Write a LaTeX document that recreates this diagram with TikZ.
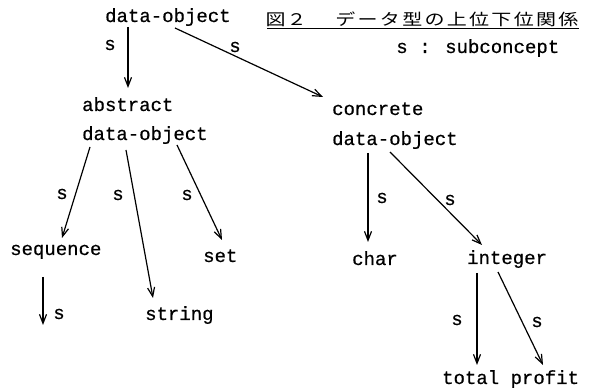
\documentclass[tikz,border=0pt]{standalone}
\usepackage{fontspec}
\usepackage{graphicx}
\setmonofont{Liberation Mono}[FakeBold=0.6]
\newfontfamily\jpfont{Noto Sans CJK JP}
\usetikzlibrary{arrows.meta,calc}
% one wide character cell of the caption
\newcommand\jcell[2][22.3pt]{\makebox[#1]{\scalebox{1.25}[1]{#2}}}
\begin{document}
\begin{tikzpicture}[x=1pt,y=-1pt,
  term/.style={font=\ttfamily\fontsize{19}{19}\selectfont, inner sep=0pt, anchor=base west},
  rel/.style={font=\ttfamily\fontsize{19}{19}\selectfont, inner sep=0pt, anchor=base},
  caption/.style={font=\jpfont\fontsize{16}{16}\selectfont, inner sep=0pt, anchor=base west},
  arr/.style={line width=1.2pt, -{Straight Barb[length=9pt,width=7pt,line width=1.2pt]}}]
\useasboundingbox (0,0) rectangle (598,390);

% caption and legend
\node[caption] (cap1) at (265,26) {\jcell[21pt]{図}\jcell[21pt]{２}};
\node[caption] (cap2) at (334,26) {\jcell{デ}\jcell{ー}\jcell{タ}\jcell{型}\jcell{の}\jcell{上}\jcell{位}\jcell{下}\jcell{位}\jcell{関}\jcell{係}};
\draw[line width=1pt] ($(cap1.base west)+(2,3)$) -- ($(cap2.base east)+(-1,3)$);
\node[rel] (legs) at (402,53) {s};
\node[rel] (legc) at (425,53) {:};
\node[term] (legt) at (445,53) {subconcept};

% concepts
\node[term] (top)  at (105,22)  {data-object};
\node[term] (abs1) at (82,111)  {abstract};
\node[term] (abs2) at (82,140)  {data-object};
\node[term] (con1) at (332,115) {concrete};
\node[term] (con2) at (332,145) {data-object};
\node[term] (seq)  at (10,255)  {sequence};
\node[term] (str)  at (145,320) {string};
\node[term] (set)  at (203,262) {set};
\node[term] (chr)  at (352,265) {char};
\node[term] (int)  at (467,264) {integer};
\node[term] (tp)   at (442,384) {total profit};
\coordinate (seqsub) at (43,325);

% subconcept links
\draw[arr] ($(top.base west)+(23,5)$)  -- ($(abs1.base west)+(46,-23)$);
\draw[arr] ($(top.base west)+(70,6)$)  -- ($(con1.base west)+(-9,-18)$);
\draw[arr] ($(abs2.base west)+(8,7)$)  -- ($(seq.base west)+(52,-17)$);
\draw[arr] ($(abs2.base west)+(44,10)$) -- ($(str.base west)+(8,-22)$);
\draw[arr] ($(abs2.base west)+(95,5)$) -- ($(set.base west)+(19,-22)$);
\draw[arr] ($(seq.base west)+(33,22)$) -- (seqsub);
\draw[arr] ($(con2.base west)+(36,8)$) -- ($(chr.base west)+(16,-23)$);
\draw[arr] ($(con2.base west)+(58,7)$) -- ($(int.base west)+(15,-19)$);
\draw[arr] ($(int.base west)+(10,9)$)  -- ($(tp.base west)+(35,-19)$);
\draw[arr] ($(int.base west)+(31,8)$)  -- ($(tp.base west)+(101,-19)$);

% link labels
\node[rel] (s1)  at (110,50)  {s};
\node[rel] (s2)  at (235,52)  {s};
\node[rel] (s3)  at (62,199)  {s};
\node[rel] (s4)  at (118,200) {s};
\node[rel] (s5)  at (187,200) {s};
\node[rel] (s6)  at (59,319)  {s};
\node[rel] (s7)  at (382,203) {s};
\node[rel] (s8)  at (450,205) {s};
\node[rel] (s9)  at (457,325) {s};
\node[rel] (s10) at (537,327) {s};
\end{tikzpicture}
\end{document}
